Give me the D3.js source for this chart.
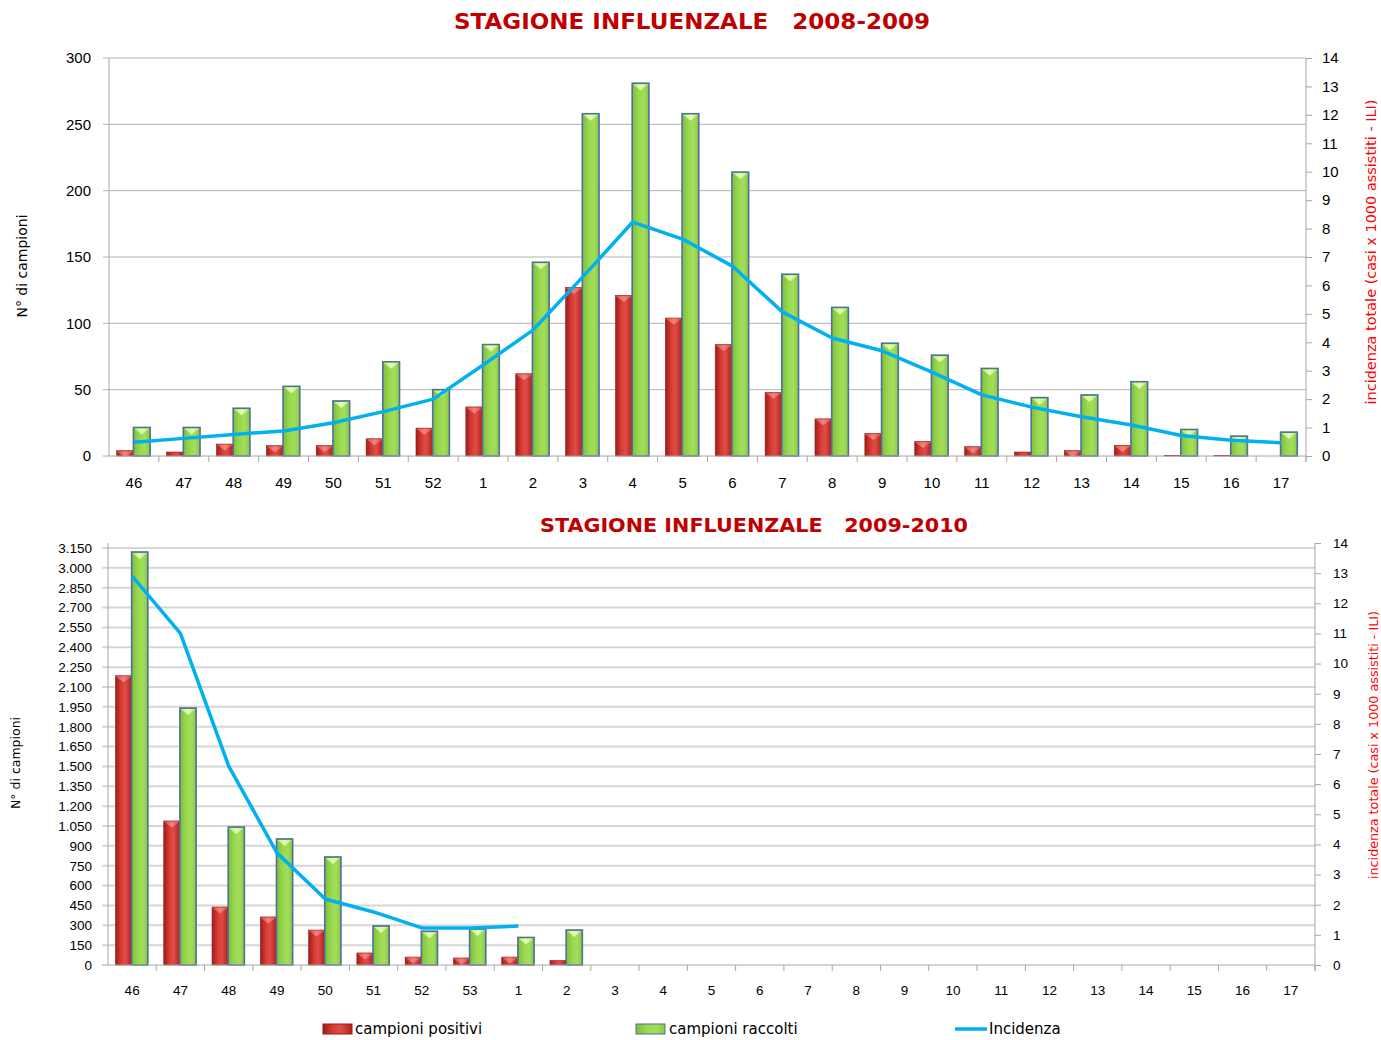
<!DOCTYPE html>
<html><head><meta charset="utf-8">
<script src="https://cdn.jsdelivr.net/npm/d3@7"></script>
<style>
body{margin:0;background:#fff;}
svg{display:block;font-family:"DejaVu Sans",Verdana,sans-serif;}
.ttl{white-space:pre;}
</style></head>
<body>
<svg id="c" width="1381" height="1040"></svg>
<script>
// ---------- DATA ----------
const weeks1 = ["46","47","48","49","50","51","52","1","2","3","4","5","6","7","8","9","10","11","12","13","14","15","16","17"];
const positivi1 = [4,3,9,7.8,7.8,13,21,37,62,127,121,104,84,48,28,17,11,7,3,4,8,0.5,0.5,0];
const raccolti1 = [21.5,21.5,36,52.5,41.5,71,50,84,146,258,281,258,214,137,112,85,76,66,44,46,56,20,15,18];
const incidenza1 = [0.48,0.62,0.76,0.88,1.17,1.56,2.0,3.2,4.43,6.3,8.23,7.63,6.68,5.07,4.15,3.7,2.95,2.15,1.72,1.38,1.09,0.72,0.55,0.47];
const leftTicks1 = [0,50,100,150,200,250,300];
const rightTicks = [0,1,2,3,4,5,6,7,8,9,10,11,12,13,14];

const weeks2 = ["46","47","48","49","50","51","52","53","1","2","3","4","5","6","7","8","9","10","11","12","13","14","15","16","17"];
const positivi2 = [2185,1088,438,363,264,91,60,53,60,34];
const raccolti2 = [3120,1941,1042,952,816,295,255,272,208,264];
const incidenza2 = [12.9,11.0,6.6,3.72,2.19,1.76,1.23,1.23,1.29];
const leftTicks2 = [0,150,300,450,600,750,900,1050,1200,1350,1500,1650,1800,1950,2100,2250,2400,2550,2700,2850,3000,3150];

const title1 = "STAGIONE INFLUENZALE   2008-2009";
const title2 = "STAGIONE INFLUENZALE   2009-2010";
const legendLabels = ["campioni positivi","campioni raccolti","Incidenza"];

// ---------- DRAW ----------
const svg = d3.select("#c");
const defs = svg.append("defs");
function hgrad(id, stops){
  const g = defs.append("linearGradient").attr("id",id).attr("x1","0").attr("x2","1").attr("y1","0").attr("y2","0");
  stops.forEach(s=>g.append("stop").attr("offset",s[0]).attr("stop-color",s[1]));
}
hgrad("gRed",[[0,"#9e1c18"],[0.35,"#d63c36"],[0.6,"#e24c46"],[1,"#b0211d"]]);
hgrad("gGreen",[[0,"#7dbf3a"],[0.4,"#9ad84f"],[0.7,"#a3de5a"],[1,"#86c842"]]);
hgrad("gRedL",[[0,"#d8504a"],[0.5,"#f48a84"],[1,"#d8504a"]]);
hgrad("gGreenL",[[0,"#b7ea7a"],[0.5,"#e2ffb0"],[1,"#b7ea7a"]]);

const cap = (x,w,y) => `M${x},${y} L${x+w},${y} L${x+w/2},${y+6} Z`;

function chart(o){
  const g = svg.append("g");
  const x = d3.scaleBand().domain(o.weeks).range([o.left,o.right]).paddingInner(0).paddingOuter(0);
  const yL = d3.scaleLinear().domain([0,o.maxL]).range([o.bottom,o.topL]);
  const yR = d3.scaleLinear().domain([0,14]).range([o.bottom,o.topR]);
  const bw = x.bandwidth()*0.335;
  const xc = d => x(d)+x.bandwidth()/2;

  // gridlines
  g.append("g").selectAll("line").data(o.leftTicks.filter(v=>v>0)).join("line")
    .attr("x1",o.left-6).attr("x2",o.right).attr("y1",d=>yL(d)).attr("y2",d=>yL(d))
    .attr("stroke",o.gridColor).attr("stroke-width",o.gridW);

  // left axis
  const axL = d3.axisLeft(yL).tickValues(o.leftTicks).tickSize(o.leftTickSize).tickPadding(o.leftPad)
    .tickFormat(d=>d3.format(",")(d).replace(/,/g,"."));
  const gL = g.append("g").attr("transform",`translate(${o.left},0)`).call(axL);
  gL.select(".domain").attr("stroke","#a6a6a6").attr("d",`M0,${o.topL-(o.extTop||0)}V${o.bottom}`);
  gL.selectAll(".tick line").attr("stroke","#a6a6a6");
  gL.selectAll("text").attr("font-size",o.leftFont).attr("fill","#000");

  // right axis
  const axR = d3.axisRight(yR).tickValues(rightTicks).tickSize(6).tickPadding(o.rightPad);
  const gR = g.append("g").attr("transform",`translate(${o.right},0)`).call(axR);
  gR.select(".domain").attr("stroke","#a6a6a6").attr("d",`M0,${o.topR}V${o.bottom+6}`);
  gR.selectAll(".tick line").attr("stroke","#a6a6a6");
  gR.selectAll("text").attr("font-size",o.rightFont).attr("fill","#000");

  // bars
  const n1 = o.positivi.length, n2 = o.raccolti.length;
  const pd = o.weeks.slice(0,n1).map((w,i)=>({w,v:o.positivi[i]}));
  const rd = o.weeks.slice(0,n2).map((w,i)=>({w,v:o.raccolti[i]}));
  const bars = g.append("g");
  bars.selectAll(".p").data(pd).join("rect").attr("class","p")
    .attr("x",d=>xc(d.w)-bw-0.5).attr("width",bw)
    .attr("y",d=>yL(d.v)).attr("height",d=>o.bottom-yL(d.v))
    .attr("fill","url(#gRed)").attr("stroke","#9a1b17").attr("stroke-width",0.6);
  bars.selectAll(".pc").data(pd.filter(d=>o.bottom-yL(d.v)>5)).join("path").attr("class","pc")
    .attr("d",d=>cap(xc(d.w)-bw-0.5,bw,yL(d.v)+0.5)).attr("fill","url(#gRedL)").attr("opacity",0.9);
  bars.selectAll(".r").data(rd).join("rect").attr("class","r")
    .attr("x",d=>xc(d.w)-0.5).attr("width",bw)
    .attr("y",d=>yL(d.v)).attr("height",d=>o.bottom-yL(d.v))
    .attr("fill","url(#gGreen)").attr("stroke","#4f6f9c").attr("stroke-width",1.6);
  bars.selectAll(".rc").data(rd).join("path").attr("class","rc")
    .attr("d",d=>cap(xc(d.w)+0.3,bw-1.6,yL(d.v)+1)).attr("fill","url(#gGreenL)");

  // x axis
  const axX = d3.axisBottom(x).tickSize(0).tickPadding(o.xPad);
  const gX = g.append("g").attr("transform",`translate(0,${o.bottom})`).call(axX);
  gX.select(".domain").attr("stroke","#a6a6a6").attr("d",`M${o.left-6},0H${o.right}`);
  gX.selectAll("text").attr("font-size",o.xFont).attr("fill","#000");
  g.append("g").selectAll("line").data(o.weeks.slice(1)).join("line")
    .attr("x1",d=>x(d)).attr("x2",d=>x(d)).attr("y1",o.bottom).attr("y2",o.bottom+6)
    .attr("stroke","#a6a6a6");
  g.append("line").attr("x1",o.right).attr("x2",o.right).attr("y1",o.bottom).attr("y2",o.bottom+6).attr("stroke","#a6a6a6");

  // line
  const ld = o.weeks.slice(0,o.incidenza.length).map((w,i)=>({w,v:o.incidenza[i]}));
  g.append("path").datum(ld)
    .attr("d",d3.line().x(d=>xc(d.w)).y(d=>yR(d.v)))
    .attr("fill","none").attr("stroke","#00b0f0").attr("stroke-width",3.5).attr("stroke-linejoin","round");

  // titles
  g.append("text").attr("class","ttl").attr("x",o.titleX).attr("y",o.titleY).attr("text-anchor","middle")
    .attr("xml:space","preserve")
    .attr("font-size",o.titleFont).attr("font-weight","bold").attr("fill","#c00000")
    .attr("textLength",o.titleLen).attr("lengthAdjust","spacingAndGlyphs")
    .attr("font-family","'Comic Sans MS','DejaVu Sans',sans-serif").text(o.title);
  g.append("text").attr("transform",`translate(${o.ylabX},${o.ylabY}) rotate(-90)`).attr("text-anchor","middle")
    .attr("font-size",o.ylabFont).attr("fill","#000").text("N° di campioni");
  g.append("text").attr("transform",`translate(${o.rlabX},${o.rlabY}) rotate(-90)`).attr("text-anchor","middle")
    .attr("font-size",o.rlabFont).attr("fill","#ff0000")
    .attr("textLength",o.rlabLen).attr("lengthAdjust","spacingAndGlyphs")
    .text("incidenza totale (casi x 1000 assistiti - ILI)");
}

chart({weeks:weeks1,positivi:positivi1,raccolti:raccolti1,incidenza:incidenza1,leftTicks:leftTicks1,
  left:109,right:1306,topL:58,topR:58,bottom:456,maxL:300,
  gridColor:"#b4b4b4",gridW:1,leftTickSize:0,leftPad:18,leftFont:15,rightFont:15,rightPad:10,
  xPad:21,xFont:15,
  title:title1,titleX:692,titleY:29,titleFont:21,titleLen:476,
  ylabX:27,ylabY:266,ylabFont:14,rlabX:1376,rlabY:252,rlabFont:14,rlabLen:305});

chart({weeks:weeks2,positivi:positivi2,raccolti:raccolti2,incidenza:incidenza2,leftTicks:leftTicks2,
  left:108,right:1315,topL:548,topR:543,bottom:965,maxL:3150,extTop:5,
  gridColor:"#d6d6d6",gridW:2,leftTickSize:0,leftPad:16,leftFont:13.5,rightFont:13.5,rightPad:12,
  xPad:20,xFont:13.5,
  title:title2,titleX:754,titleY:532,titleFont:19,titleLen:428,
  ylabX:20,ylabY:763,ylabFont:12.5,rlabX:1378,rlabY:745,rlabFont:12.5,rlabLen:268});

// legend
const lg = svg.append("g").attr("font-family","'Comic Sans MS','DejaVu Sans',sans-serif").attr("font-size",15);
const items = [
  {x:323, type:"rect", fill:"url(#gRed)", stroke:"#9a1b17", tx:355},
  {x:636, type:"rect", fill:"url(#gGreen)", stroke:"#4f6f9c", tx:669},
  {x:955, type:"line", tx:989}
];
items.forEach((it,i)=>{
  if(it.type==="rect"){
    lg.append("rect").attr("x",it.x).attr("y",1024).attr("width",29).attr("height",10)
      .attr("fill",it.fill).attr("stroke",it.stroke).attr("stroke-width",1);
  } else {
    lg.append("line").attr("x1",it.x).attr("x2",it.x+32).attr("y1",1029).attr("y2",1029)
      .attr("stroke","#00b0f0").attr("stroke-width",3.5);
  }
  lg.append("text").attr("x",it.tx).attr("y",1034).attr("fill","#000").text(legendLabels[i]);
});
</script>
</body></html>
